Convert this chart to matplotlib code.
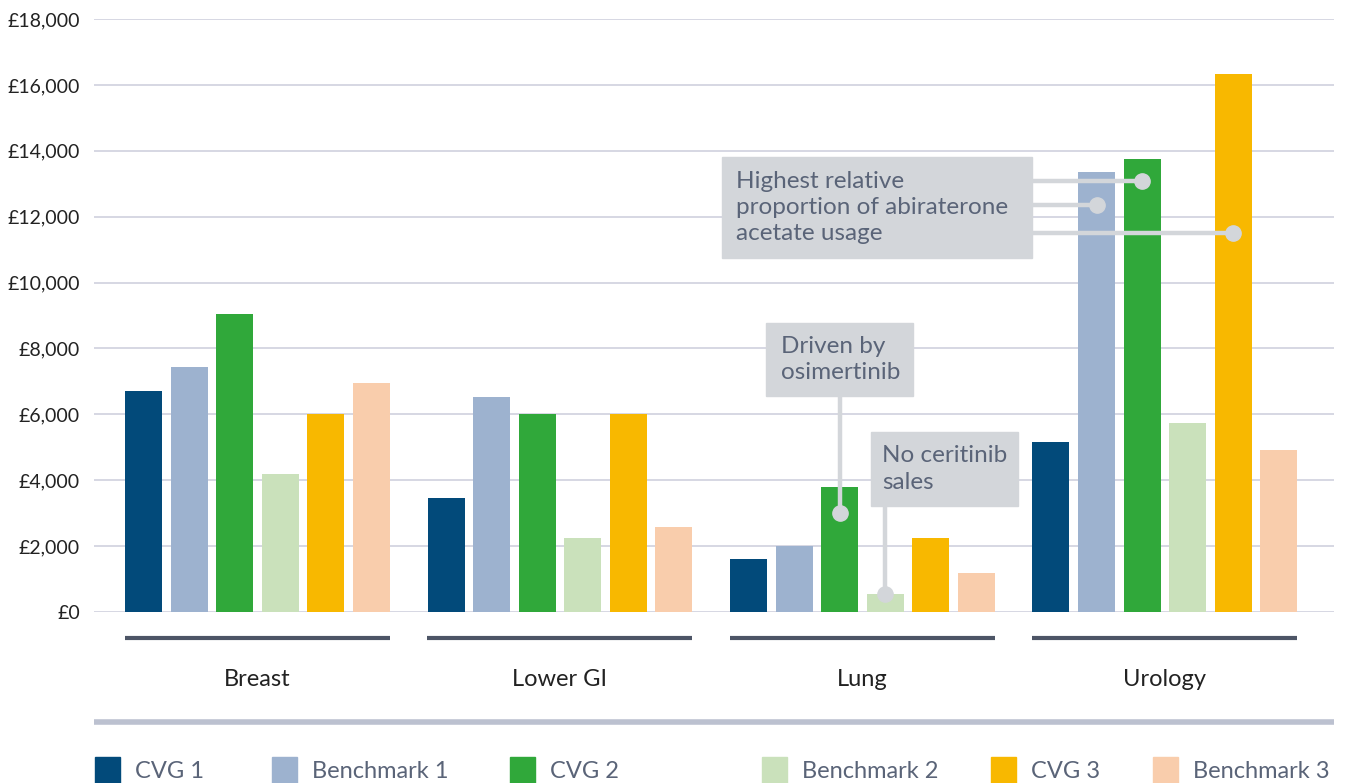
import numpy as np
import matplotlib
matplotlib.use('Agg')
import matplotlib.pyplot as plt
from matplotlib.patches import Rectangle
import matplotlib.transforms as mtransforms

plt.rcParams['font.family'] = ['Lato', 'DejaVu Sans']

# data
categories = ['Breast', 'Lower GI', 'Lung', 'Urology']
series = ['CVG 1', 'Benchmark 1', 'CVG 2', 'Benchmark 2', 'CVG 3', 'Benchmark 3']
values = {
    'CVG 1':       [6700, 3460, 1600, 5160],
    'Benchmark 1': [7440, 6530, 2000, 13360],
    'CVG 2':       [9050, 6000, 3800, 13750],
    'Benchmark 2': [4190, 2250, 550, 5740],
    'CVG 3':       [6000, 6000, 2250, 16330],
    'Benchmark 3': [6950, 2580, 1180, 4920],
}
yticks = [0, 2000, 4000, 6000, 8000, 10000, 12000, 14000, 16000, 18000]

colors = ['#024a7a', '#9db2cf', '#30a83a', '#cae1bb', '#f8b800', '#f9cdac']
box_col = '#d3d6da'
note_txt = '#5a6478'

fig = plt.figure(figsize=(13.46, 7.83), dpi=100)
ax = fig.add_axes([94/1346, 171/783, 1240/1346, 593/783])

step = 0.1507
width = 0.1223
x = np.arange(len(categories))
for i, s in enumerate(series):
    ax.bar(x + (i - 2.5) * step, values[s], width=width, color=colors[i], zorder=2)

ax.set_ylim(0, 18000)
ax.set_xlim(-0.5405, 3.559)
ax.set_yticks(yticks)
ax.set_yticklabels(['£{:,}'.format(v) for v in yticks], fontsize=14, color='#222222')
ax.set_xticks([])
ax.tick_params(axis='y', length=0, pad=10)
for sp in ax.spines.values():
    sp.set_visible(False)
for v in yticks:
    ax.axhline(v, color='#cfd1de', lw=1.2, zorder=1)

# group underlines and labels
trans = mtransforms.blended_transform_factory(ax.transData, ax.transAxes)
for xi, c in zip(x, categories):
    ax.plot([xi - 0.438, xi + 0.438], [-0.044, -0.044], color='#4d5566', lw=3,
            transform=trans, clip_on=False, solid_capstyle='butt')
    ax.text(xi, -0.114, c, transform=trans, ha='center', va='center',
            fontsize=17, color='#222222')
ax.plot([0, 1], [-0.1855, -0.1855], color='#bcc1d0', lw=4, transform=ax.transAxes,
        clip_on=False, solid_capstyle='butt')

# legend
leg_x = [95, 272, 510, 762, 991, 1153]
for i, s in enumerate(series):
    fig.patches.append(Rectangle((leg_x[i] / 1346, 0), 25 / 1346, 26 / 783,
                                 transform=fig.transFigure, color=colors[i]))
    fig.text((leg_x[i] + 40) / 1346, 12 / 783, s, fontsize=17, color=note_txt,
             va='center', ha='left')

# annotations
def dot_line(xs, ys):
    ax.plot(xs, ys, color=box_col, lw=3.2, zorder=4, solid_capstyle='butt')
    ax.plot(xs[-1], ys[-1], 'o', color=box_col, markersize=11, zorder=5)

def note(x0, x1, y0, y1, tx, ty, text):
    ax.add_patch(Rectangle((x0, y0), x1 - x0, y1 - y0, color=box_col, zorder=6))
    ax.text(tx, ty, text, fontsize=17.5, color=note_txt, va='center', ha='left',
            linespacing=1.3, zorder=7)

uro_b1 = 3 + (1 - 2.5) * step
uro_c2 = 3 + (2 - 2.5) * step
uro_c3 = 3 + (4 - 2.5) * step
dot_line([2.56, uro_c2], [13080, 13080])
dot_line([2.56, uro_b1], [12350, 12350])
dot_line([2.56, uro_c3], [11500, 11500])
note(1.5355, 2.5603, 10750, 13810, 1.582, 12290,
     'Highest relative\nproportion of abiraterone\nacetate usage')

lung_c2 = 2 + (2 - 2.5) * step
lung_b2 = 2 + (3 - 2.5) * step
dot_line([lung_c2, lung_c2], [6600, 3000])
note(1.681, 2.167, 6560, 8770, 1.731, 7660, 'Driven by\nosimertinib')
dot_line([lung_b2, lung_b2], [3250, 550])
note(2.028, 2.514, 3220, 5460, 2.065, 4340, 'No ceritinib\nsales')

fig.savefig('out.png', dpi=100)
